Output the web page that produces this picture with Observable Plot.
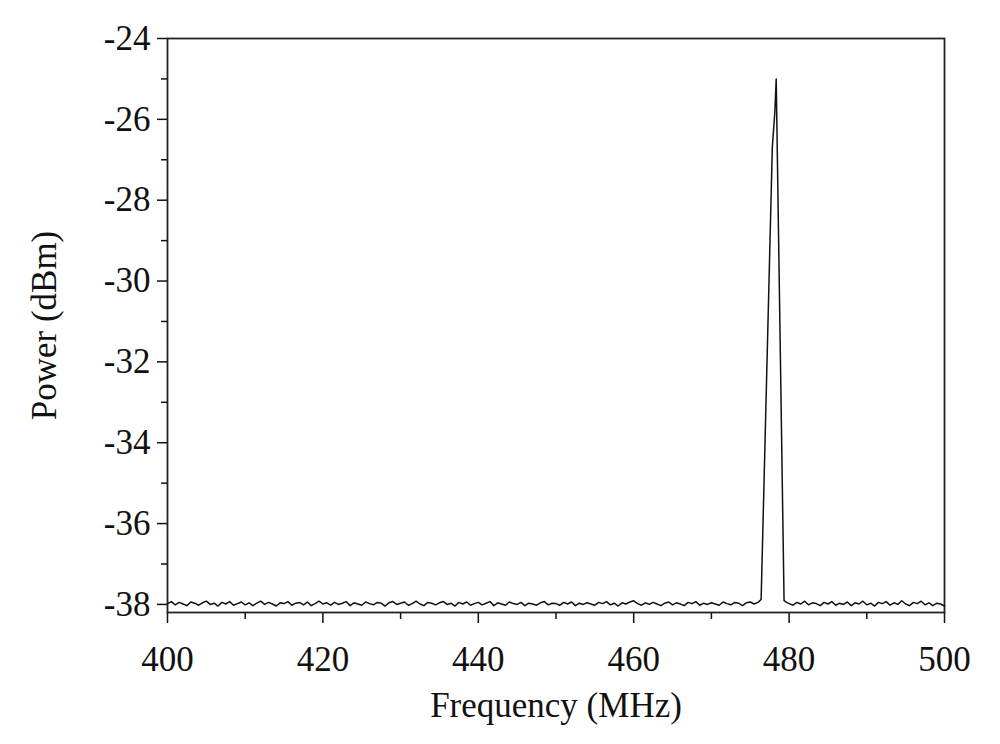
<!DOCTYPE html>
<html>
<head>
<meta charset="utf-8">
<script src="https://cdn.jsdelivr.net/npm/d3@7"></script>
<script src="https://cdn.jsdelivr.net/npm/@observablehq/plot@0.6"></script>
<style>
  html, body { margin: 0; padding: 0; background: #fff; }
  #chart svg { display: block; }
</style>
</head>
<body>
<div id="chart"></div>
<script>
// Spectrum trace: frequency (MHz) and measured power (dBm)
const frequency = [
  400.0,400.5,401.0,401.5,402.0,402.5,403.0,403.5,404.0,404.5,
  405.0,405.5,406.0,406.5,407.0,407.5,408.0,408.5,409.0,409.5,
  410.0,410.5,411.0,411.5,412.0,412.5,413.0,413.5,414.0,414.5,
  415.0,415.5,416.0,416.5,417.0,417.5,418.0,418.5,419.0,419.5,
  420.0,420.5,421.0,421.5,422.0,422.5,423.0,423.5,424.0,424.5,
  425.0,425.5,426.0,426.5,427.0,427.5,428.0,428.5,429.0,429.5,
  430.0,430.5,431.0,431.5,432.0,432.5,433.0,433.5,434.0,434.5,
  435.0,435.5,436.0,436.5,437.0,437.5,438.0,438.5,439.0,439.5,
  440.0,440.5,441.0,441.5,442.0,442.5,443.0,443.5,444.0,444.5,
  445.0,445.5,446.0,446.5,447.0,447.5,448.0,448.5,449.0,449.5,
  450.0,450.5,451.0,451.5,452.0,452.5,453.0,453.5,454.0,454.5,
  455.0,455.5,456.0,456.5,457.0,457.5,458.0,458.5,459.0,459.5,
  460.0,460.5,461.0,461.5,462.0,462.5,463.0,463.5,464.0,464.5,
  465.0,465.5,466.0,466.5,467.0,467.5,468.0,468.5,469.0,469.5,
  470.0,470.5,471.0,471.5,472.0,472.5,473.0,473.5,474.0,474.5,
  475.0,475.5,476.0,
  476.4,477.84,478.17,478.34,479.35,
  479.5,480.0,480.5,481.0,481.5,482.0,482.5,483.0,483.5,484.0,
  484.5,485.0,485.5,486.0,486.5,487.0,487.5,488.0,488.5,489.0,
  489.5,490.0,490.5,491.0,491.5,492.0,492.5,493.0,493.5,494.0,
  494.5,495.0,495.5,496.0,496.5,497.0,497.5,498.0,498.5,499.0,
  499.5,500.0
];
const power = [
  -37.98,-37.93,-38.01,-37.95,-37.99,-38.03,-37.94,-37.97,-38.02,-37.96,
  -37.92,-38.00,-37.97,-38.04,-37.95,-37.99,-37.93,-38.02,-37.98,-37.94,
  -38.01,-37.96,-38.03,-37.97,-37.92,-38.00,-37.95,-37.99,-38.04,-37.96,
  -37.98,-37.93,-38.02,-37.97,-37.95,-38.01,-37.94,-38.03,-37.98,-37.92,
  -37.99,-37.96,-38.02,-37.95,-38.00,-37.97,-37.93,-38.03,-37.96,-37.99,
  -38.02,-37.94,-37.98,-38.01,-37.95,-37.97,-38.04,-37.96,-37.93,-38.00,
  -37.97,-37.94,-38.02,-37.98,-37.92,-37.99,-38.03,-37.95,-37.97,-38.01,
  -37.96,-37.93,-38.00,-37.97,-38.04,-37.95,-37.99,-37.94,-38.02,-37.98,
  -37.95,-38.01,-37.97,-37.93,-38.03,-37.96,-37.99,-38.02,-37.94,-37.98,
  -38.00,-37.95,-38.03,-37.97,-37.99,-38.02,-37.96,-37.93,-38.01,-37.97,
  -37.98,-38.02,-37.95,-37.99,-37.94,-38.03,-37.97,-38.00,-37.96,-37.99,
  -38.02,-37.95,-37.98,-37.93,-38.01,-37.97,-38.04,-37.96,-37.99,-37.94,
  -37.91,-37.98,-38.02,-37.96,-38.00,-37.95,-37.99,-38.03,-37.97,-37.94,
  -38.01,-37.96,-37.99,-38.03,-37.95,-37.98,-37.93,-38.02,-37.97,-38.00,
  -37.96,-37.99,-38.02,-37.94,-37.98,-38.01,-37.95,-37.97,-38.03,-37.96,
  -37.94,-37.99,-37.95,
  -37.88,-26.70,-25.80,-25.00,-37.90,
  -37.93,-37.98,-38.02,-37.95,-37.99,-37.92,-38.01,-37.96,-37.98,-38.03,
  -37.95,-37.99,-37.93,-38.02,-37.97,-38.00,-37.94,-38.03,-37.96,-37.99,
  -37.92,-38.01,-37.97,-38.04,-37.95,-37.98,-37.93,-38.02,-37.96,-38.00,
  -37.91,-37.99,-38.03,-37.95,-37.98,-37.92,-38.01,-37.96,-38.03,-37.97,
  -37.99,-38.04
];
const xTicks = [400, 420, 440, 460, 480, 500];
const xMinorTicks = [410, 430, 450, 470, 490];
const yTicks = [-24, -26, -28, -30, -32, -34, -36, -38];
const yMinorTicks = [-25, -27, -29, -31, -33, -35, -37];
const xLabel = "Frequency (MHz)";
const yLabel = "Power (dBm)";

const data = frequency.map((f, i) => ({frequency: f, power: power[i]}));

const chart = Plot.plot({
  width: 1000,
  height: 744,
  marginLeft: 167,
  marginRight: 56,
  marginTop: 38,
  marginBottom: 132,
  x: {domain: [400, 500]},
  y: {domain: [-38.2, -24]},
  style: {
    fontFamily: "'Liberation Serif', 'Times New Roman', serif",
    fontSize: "34px",
    color: "#111",
    background: "#fff",
    overflow: "visible"
  },
  marks: [
    Plot.axisX({
      ticks: xTicks, tickSize: 11, tickPadding: 23, strokeWidth: 1.5,
      tickFormat: d => String(d),
      label: xLabel, labelAnchor: "center", labelOffset: 104, labelArrow: "none",
      fontSize: 35
    }),
    Plot.axisX({ticks: xMinorTicks, tickSize: 7, strokeWidth: 1.5, text: null, label: null}),
    Plot.axisY({
      ticks: yTicks, tickSize: 10, tickPadding: 7, strokeWidth: 1.5,
      tickFormat: d => String(d),
      label: yLabel, labelAnchor: "center", labelOffset: 136, labelArrow: "none",
      fontSize: 35
    }),
    Plot.axisY({ticks: yMinorTicks, tickSize: 6, strokeWidth: 1.5, text: null, label: null}),
    Plot.frame({stroke: "#222", strokeWidth: 1.8}),
    Plot.line(data, {x: "frequency", y: "power", stroke: "#111", strokeWidth: 1.5})
  ]
});
document.getElementById("chart").append(chart);
</script>
</body>
</html>
